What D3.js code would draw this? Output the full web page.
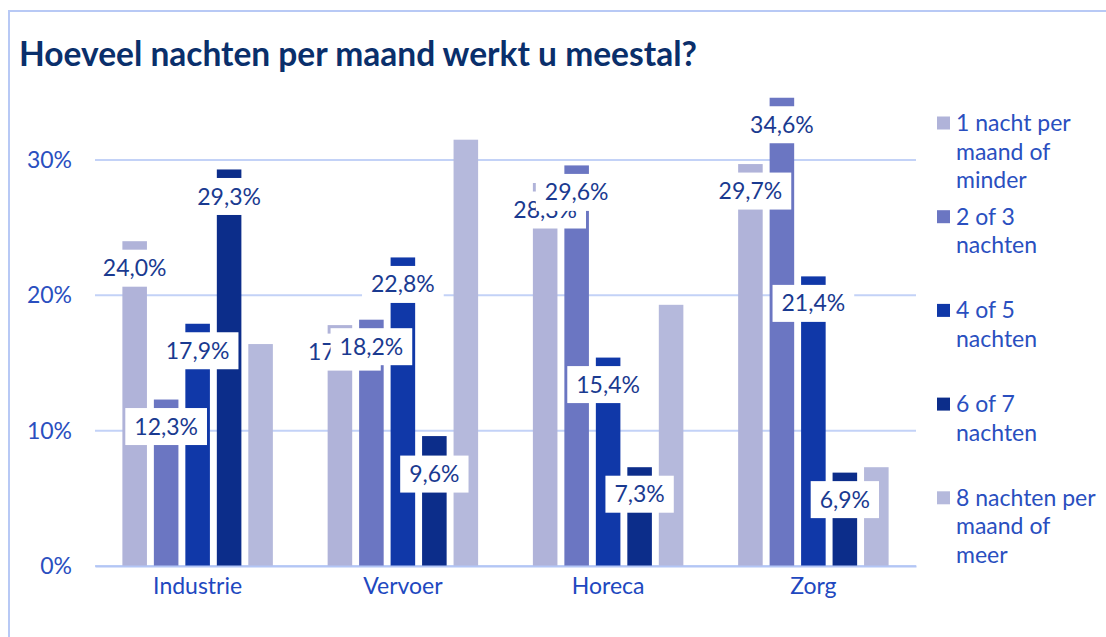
<!DOCTYPE html>
<html lang="nl">
<head>
<meta charset="utf-8">
<title>Hoeveel nachten per maand werkt u meestal?</title>
<script src="https://cdn.jsdelivr.net/npm/d3@7"></script>
<style>
  body { margin: 0; background: #fff; }
  text { font-family: Lato, "Open Sans", sans-serif; }
</style>
</head>
<body>
<script>
// data
var categories = ["Industrie", "Vervoer", "Horeca", "Zorg"];
var seriesNames = ["1 nacht per maand of minder", "2 of 3 nachten", "4 of 5 nachten", "6 of 7 nachten", "8 nachten per maand of meer"];
var legendLines = [["1 nacht per", "maand of", "minder"], ["2 of 3", "nachten"], ["4 of 5", "nachten"], ["6 of 7", "nachten"], ["8 nachten per", "maand of", "meer"]];
var s1 = [24.0, 17.8, 28.3, 29.7];
var s2 = [12.3, 18.2, 29.6, 34.6];
var s3 = [17.9, 22.8, 15.4, 21.4];
var s4 = [29.3, 9.6, 7.3, 6.9];
var s5 = [16.4, 31.5, 19.3, 7.3];
var labelled = [true, true, true, true, false];
var yTicks = [0, 10, 20, 30];

var allSeries = [s1, s2, s3, s4, s5];
var colors = ["#b0b3d9", "#6b76c2", "#1038a8", "#0c2d8a", "#b5b9dc"];

var W = 1106, H = 637;
var svg = d3.select("body").append("svg").attr("width", W).attr("height", H);

// frame
svg.append("line").attr("x1", 9).attr("x2", W).attr("y1", 11).attr("y2", 11)
  .attr("stroke", "#b8c9f5").attr("stroke-width", 2);
svg.append("line").attr("x1", 9).attr("x2", 9).attr("y1", 10).attr("y2", H)
  .attr("stroke", "#b8c9f5").attr("stroke-width", 2);

// title
svg.append("text").attr("x", 19).attr("y", 66)
  .attr("font-size", 33.5).attr("font-weight", "bold").attr("fill", "#0a2f6b")
  .text("Hoeveel nachten per maand werkt u meestal?");

var x0 = d3.scaleBand().domain(categories).range([95, 916]);
var x1 = d3.scaleBand().domain(d3.range(5)).range([0, x0.bandwidth()])
  .paddingInner(0.22).paddingOuter(0.87);
var y = d3.scaleLinear().domain([0, 30]).range([566, 160]);

// grid
svg.append("g").selectAll("line").data(yTicks).join("line")
  .attr("x1", 95).attr("x2", 916)
  .attr("y1", d => y(d)).attr("y2", d => y(d))
  .attr("stroke", "#c3d2f7").attr("stroke-width", 2);

// y axis labels
var yAxis = d3.axisLeft(y).tickValues(yTicks).tickSize(0).tickPadding(0)
  .tickFormat(d => d + "%");
var gy = svg.append("g").attr("transform", "translate(72,0)").call(yAxis);
gy.select(".domain").remove();
gy.selectAll("text").attr("font-size", 23).attr("fill", "#2a4fbf")
  .attr("font-family", "Lato, 'Open Sans', sans-serif");

// bars
var rows = [];
allSeries.forEach(function(vals, si) {
  vals.forEach(function(v, ci) { rows.push({s: si, c: categories[ci], v: v}); });
});

svg.append("g").selectAll("rect").data(rows).join("rect")
  .attr("x", d => x0(d.c) + x1(d.s))
  .attr("width", x1.bandwidth())
  .attr("y", d => y(d.v))
  .attr("height", d => y(0) - y(d.v))
  .attr("fill", d => colors[d.s]);

// x axis
var xAxis = d3.axisBottom(x0).tickSize(0).tickPadding(12);
var gx = svg.append("g").attr("transform", "translate(0,566)").call(xAxis);
gx.select(".domain").attr("stroke", "#b3c6f5").attr("stroke-width", 2);
gx.selectAll("text").attr("font-size", 23).attr("fill", "#2148bf")
  .attr("font-family", "Lato, 'Open Sans', sans-serif");

// value labels with white boxes
var fmt = v => d3.format(".1f")(v).replace(".", ",") + "%";
var lab = svg.append("g");
rows.filter(d => labelled[d.s]).forEach(function(d) {
  var cx = x0(d.c) + x1(d.s) + x1.bandwidth() / 2;
  // the short Vervoer bar has its label pushed a bit lower
  var off = (d.c === "Vervoer" && d.s === 3) ? 38 : 27;
  var cy = y(d.v) + off;
  var g = lab.append("g");
  var r = g.append("rect").attr("fill", "#fff");
  var t = g.append("text").attr("x", cx).attr("y", cy).attr("dy", "0.35em")
    .attr("text-anchor", "middle").attr("font-size", 23).attr("fill", "#1a3a90")
    .text(fmt(d.v));
  var tw = t.node().getComputedTextLength();
  r.attr("x", cx - tw / 2 - 9).attr("width", tw + 18)
    .attr("y", cy - 18.5).attr("height", 37);
});

// legend
var leg = svg.append("g").selectAll("g").data(legendLines).join("g")
  .attr("transform", (d, i) => "translate(937," + (123 + i * 93.7) + ")");
leg.append("rect").attr("x", 0).attr("y", -6.5).attr("width", 13).attr("height", 13)
  .attr("fill", (d, i) => colors[i]);
leg.each(function(lines) {
  var t = d3.select(this).append("text").attr("x", 19).attr("y", 0)
    .attr("font-size", 23).attr("fill", "#2a4fbf");
  lines.forEach(function(l, k) {
    t.append("tspan").attr("x", 19).attr("y", k * 28.6).attr("dy", "0.35em").text(l);
  });
});
</script>
</body>
</html>
